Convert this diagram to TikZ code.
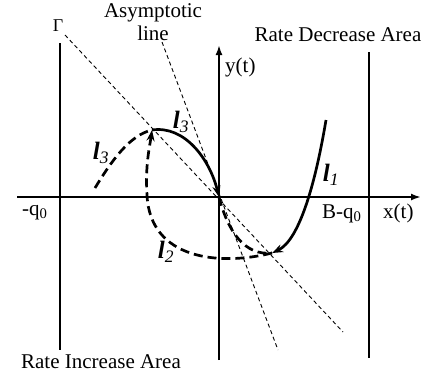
\documentclass[tikz,border=0pt]{standalone}
\usepackage{fontspec}
\setmainfont{Liberation Serif}
\usetikzlibrary{arrows.meta}
\tikzset{
  axisline/.style={line width=2.7pt},
  bound/.style={line width=2.7pt},
  guide/.style={line width=0.9pt, dash pattern=on 4pt off 3pt},
  traj/.style={line width=2.7pt},
  trajd/.style={line width=2.7pt, dash pattern=on 9pt off 5pt},
  tip/.style={-{Stealth[length=11pt,width=8pt]}},
  lab/.style={font=\fontsize{21}{23}\selectfont, inner sep=0pt},
  curvelab/.style={font=\fontsize{25}{27}\selectfont\bfseries\itshape, inner sep=0pt}
}
\newcommand{\lsub}[1]{l\textsubscript{\mdseries#1}}
\begin{document}
\begin{tikzpicture}[x=1pt,y=-1pt]
\useasboundingbox (0,0) rectangle (431,376);
% key points
\coordinate (O) at (219,197);
\coordinate (xs) at (17,197);
\coordinate (xe) at (421,197);
\coordinate (ys) at (219,360);
\coordinate (ye) at (219,45);
\coordinate (Lt) at (60,43);
\coordinate (Lb) at (60,350);
\coordinate (Rt) at (369,52);
\coordinate (Rb) at (369,358);
\coordinate (Gs) at (65,35);
\coordinate (Ge) at (343,332);
\coordinate (As) at (162,42);
\coordinate (Ae) at (278,350);
\coordinate (peak) at (152,130);
\coordinate (meet) at (272,253);
\coordinate (l1s) at (326,120);
\coordinate (l3s) at (95,188);
% axes and bounds
\draw[axisline,-{Latex[length=10pt,width=7pt]}] (xs) -- (xe);
\draw[axisline,-{Latex[length=10pt,width=7pt]}] (ys) -- (ye);
\draw[bound] (Lt) -- (Lb);
\draw[bound] (Rt) -- (Rb);
% guide lines
\draw[guide] (Gs) -- (Ge);
\draw[guide] (As) -- (Ae);
% trajectories
\draw[traj,tip] (l1s) .. controls (316,180) and (300,240) .. (meet);
\draw[trajd] (O) .. controls (228,232) and (245,256) .. (meet);
\draw[trajd,tip] (meet) .. controls (220,266) and (150,260) .. (147,195)
   .. controls (145,165) and (150,145) .. (peak);
\draw[traj,tip] (peak) .. controls (185,125) and (210,160) .. (O);
\draw[trajd] (l3s) .. controls (112,160) and (130,135) .. (peak);
% labels
\node[lab, align=center] (asym) at (153,22) {Asymptotic\\line};
\node[lab, anchor=base] (rda) at (338,41) {Rate Decrease Area};
\node[lab, anchor=base] (ria) at (101,368) {Rate Increase Area};
\node[lab, anchor=base west] (ylab) at (225,72) {y(t)};
\node[lab, anchor=base west] (xlab) at (383,218) {x(t)};
\node[lab, anchor=base west] (bq) at (322,218) {B-q\textsubscript{0}};
\node[lab, anchor=base west] (mq) at (22,215) {-q\textsubscript{0}};
\node[lab, font=\fontsize{18}{20}\selectfont] (gam) at (58,26) {Γ};
\node[curvelab] (l1) at (331,175) {\lsub{1}};
\node[curvelab] (l2) at (166,252) {\lsub{2}};
\node[curvelab] (l3a) at (181,122) {\lsub{3}};
\node[curvelab] (l3b) at (101,153) {\lsub{3}};
\end{tikzpicture}
\end{document}
